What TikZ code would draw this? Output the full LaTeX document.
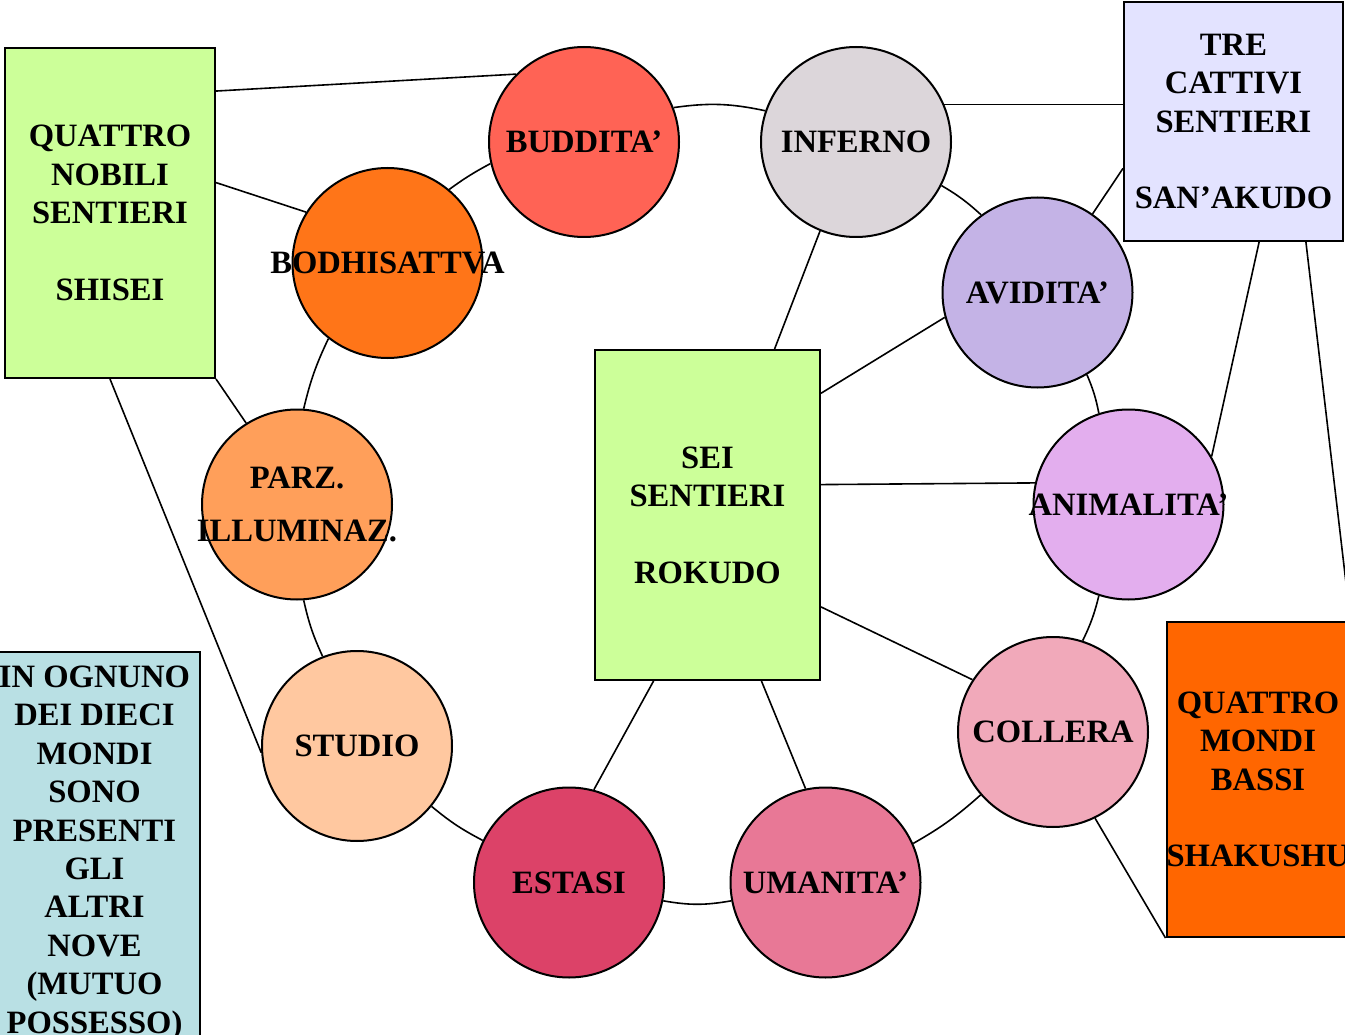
\documentclass[tikz,border=0pt]{standalone}
\usepackage{fontspec}
\setmainfont{Liberation Serif}
\definecolor{verde}{HTML}{CCFF99}
\definecolor{lilla}{HTML}{E3E3FF}
\definecolor{arancio}{HTML}{FF6600}
\definecolor{azzurro}{HTML}{B9E0E4}
\definecolor{rosso}{HTML}{FF6355}
\definecolor{grigio}{HTML}{DCD6DA}
\definecolor{zucca}{HTML}{FF7518}
\definecolor{viola}{HTML}{C4B3E6}
\definecolor{albicocca}{HTML}{FF9F5A}
\definecolor{glicine}{HTML}{E3AEEE}
\definecolor{pesca}{HTML}{FFC8A0}
\definecolor{rosa}{HTML}{F1A9BA}
\definecolor{lampone}{HTML}{DC4268}
\definecolor{corallo}{HTML}{E87896}
\newcommand\centro[1]{\makebox[0pt]{#1}}

\begin{document}
\begin{tikzpicture}[x=1pt,y=-1pt,
    every node/.style={font=\fontsize{32.6}{38.4}\selectfont\bfseries},
    mondo/.style={circle,draw,line width=2pt,minimum size=190pt,inner sep=0pt,fill=#1,align=center},
    gruppo/.style={rectangle,draw,line width=2pt,inner sep=0pt,fill=#1,align=center},
    legame/.style={line width=1.6pt}]
    \useasboundingbox (0,0) rectangle (1345,1035);
    % i quattro gruppi
    \node[gruppo=verde,minimum width=210pt,minimum height=330pt] (nobili) at (110,213)
        {QUATTRO\\NOBILI\\SENTIERI\\[38.4pt]SHISEI};
    \node[gruppo=verde,minimum width=225pt,minimum height=330pt] (sei) at (707.5,515)
        {SEI\\SENTIERI\\[38.4pt]ROKUDO};
    \node[gruppo=lilla,minimum width=219pt,minimum height=239pt] (cattivi) at (1233.5,121.5)
        {TRE\\CATTIVI\\SENTIERI\\[38.4pt]SAN’AKUDO};
    \node[gruppo=arancio,minimum width=180pt,minimum height=315pt] (bassi) at (1258,779.5)
        {QUATTRO\\MONDI\\BASSI\\[38.4pt]SHAKUSHU};
    \node[gruppo=azzurro,minimum width=211pt,minimum height=402pt] (ognuno) at (94.5,853)
        {IN OGNUNO\\DEI DIECI\\MONDI\\SONO\\PRESENTI\\GLI\\ALTRI\\NOVE\\(MUTUO\\POSSESSO)};
    % i dieci mondi
    \node[mondo=rosso] (buddita) at (584,142) {\centro{BUDDITA’}};
    \node[mondo=grigio] (inferno) at (856,142) {\centro{INFERNO}};
    \node[mondo=zucca] (bodhi) at (387.5,263) {\centro{BODHISATTVA}};
    \node[mondo=viola] (avidita) at (1037.5,292.5) {\centro{AVIDITA’}};
    \node[mondo=albicocca] (parz) at (297,504.5) {\centro{PARZ.}\\[15.5pt]\centro{ILLUMINAZ.}};
    \node[mondo=glicine] (animalita) at (1128.5,504.5) {\centro{ANIMALITA’}};
    \node[mondo=pesca] (studio) at (357,746) {\centro{STUDIO}};
    \node[mondo=rosa] (collera) at (1053,732) {\centro{COLLERA}};
    \node[mondo=lampone] (estasi) at (569,882.5) {\centro{ESTASI}};
    \node[mondo=corallo] (umanita) at (825.5,882.5) {\centro{UMANITA’}};
    % anello
    \draw[legame] (buddita.21) to[bend left=10] (inferno.161);
    \draw[legame] (inferno.-27) to[bend left=6] (avidita.126);
    \draw[legame] (avidita.-59) to[bend left=6] (animalita.108);
    \draw[legame] (animalita.-108) to[bend left=6] (collera.72);
    \draw[legame] (collera.-139) to[bend left=6] (umanita.24);
    \draw[legame] (umanita.191) to[bend left=10] (estasi.-11);
    \draw[legame] (estasi.154) to[bend left=6] (studio.-39);
    \draw[legame] (studio.111) to[bend left=6] (parz.-86);
    \draw[legame] (parz.86) to[bend left=6] (bodhi.-128);
    \draw[legame] (bodhi.50) to[bend left=4] (buddita.-167);
    % raggi
    \draw[legame] (nobili.49) -- (buddita.135);
    \draw[legame] (nobili.16) -- (bodhi.148);
    \draw[legame] (nobili.south east) -- (parz.122);
    \draw[legame] (nobili.south) -- (studio.184);
    \draw[legame] (sei.68) -- (inferno.-112);
    \draw[legame] (sei.47) -- (avidita.-165);
    \draw[legame] (sei.15) -- (animalita.167);
    \draw[legame] (sei.-39) -- (collera.147);
    \draw[legame] (sei.-72) -- (umanita.102);
    \draw[legame] (sei.-108) -- (estasi.75);
    \draw[legame] (inferno.23) -- (inferno.23 -| cattivi.west);
    \draw[legame] (cattivi.-157) -- (avidita.55);
    \draw[legame] (cattivi.-78.5) -- (animalita.30);
    \draw[legame] (cattivi.-59) -- (bassi.north east);
    \draw[legame] (collera.-64.5) -- (bassi.south west);
\end{tikzpicture}
\end{document}
